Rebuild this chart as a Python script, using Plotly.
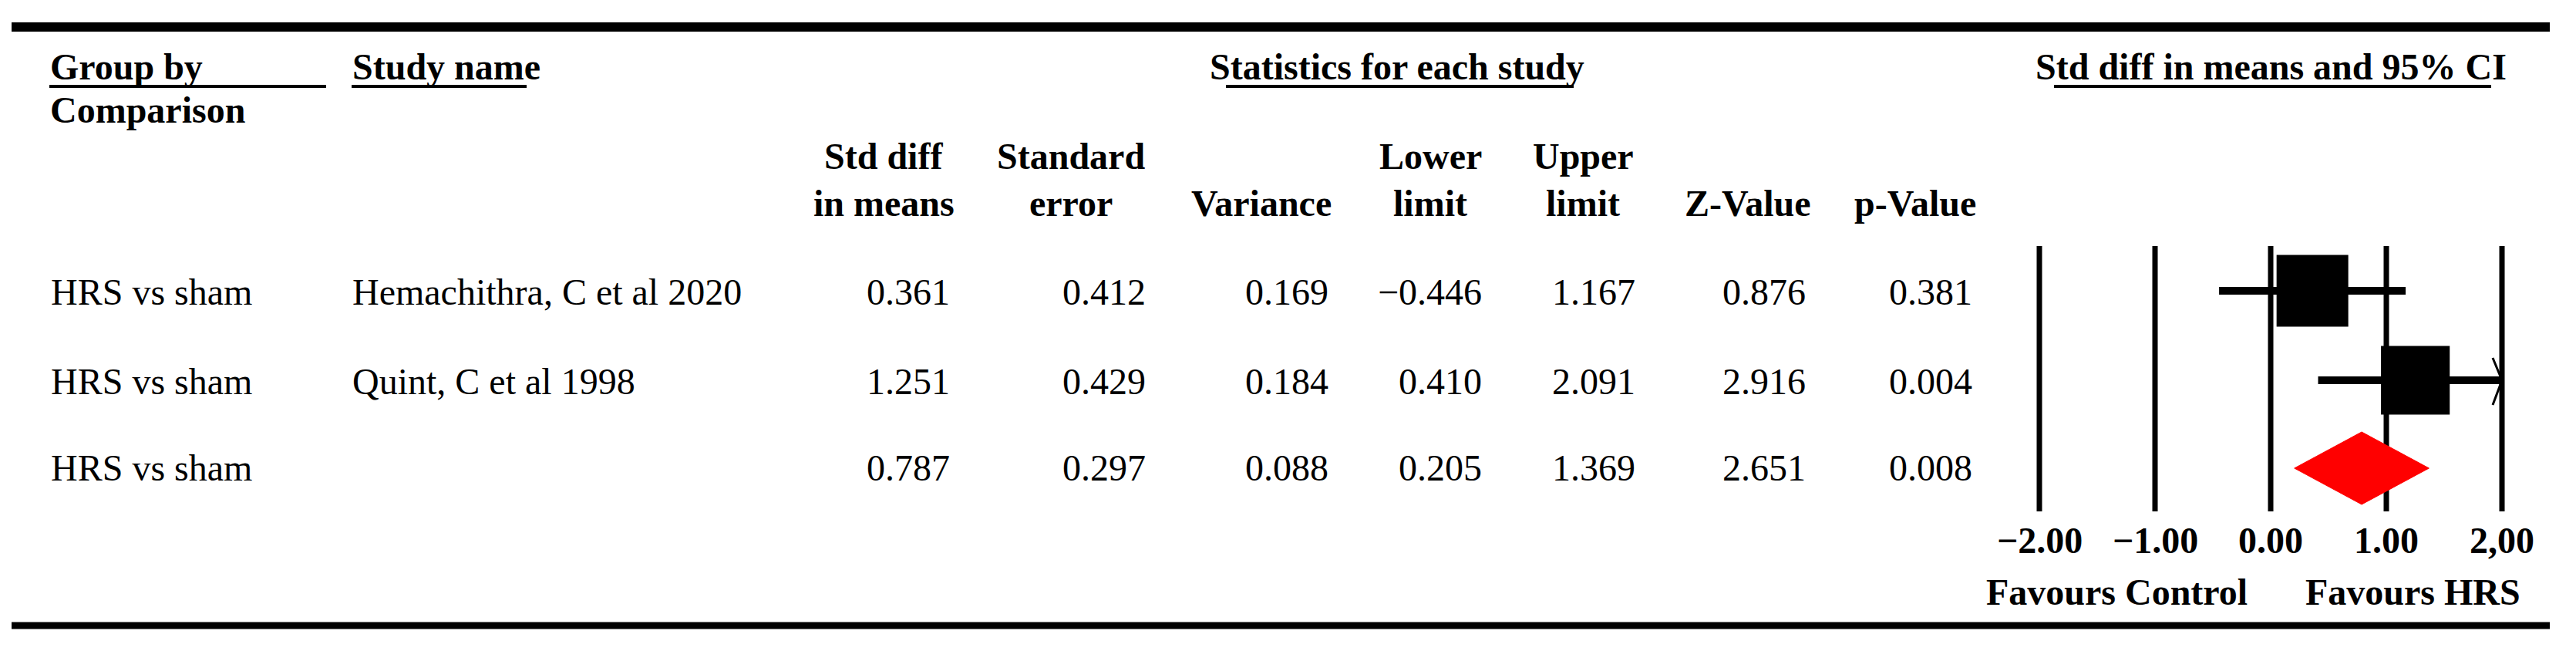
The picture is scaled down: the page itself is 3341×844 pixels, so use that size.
import plotly.graph_objects as go
import math

# ---------------- data ----------------
groups = ["HRS vs sham", "HRS vs sham", "HRS vs sham"]
studies = ["Hemachithra, C et al 2020", "Quint, C et al 1998", ""]
std_diff = [0.361, 1.251, 0.787]
std_err = [0.412, 0.429, 0.297]
variance = [0.169, 0.184, 0.088]
lower = [-0.446, 0.410, 0.205]
upper = [1.167, 2.091, 1.369]
z_value = [0.876, 2.916, 2.651]
p_value = [0.381, 0.004, 0.008]
is_summary = [False, False, True]

col_headers = [("Std diff", "in means"), ("Standard", "error"), ("", "Variance"),
               ("Lower", "limit"), ("Upper", "limit"), ("", "Z-Value"), ("", "p-Value")]
tick_vals = [-2, -1, 0, 1, 2]
tick_text = ["\u22122.00", "\u22121.00", "0.00", "1.00", "2,00"]
axis_min, axis_max = -2.0, 2.0

# ---------------- layout constants ----------------
W, H = 3341, 844
FONT = "Liberation Serif"
FS = 48
row_y = [378, 494, 606]
col_right = [1233, 1487, 1724, 1923, 2122, 2343, 2559]
col_center = [1146, 1389, 1636, 1855, 2053, 2267, 2484]

fig = go.Figure()
annotations = []
shapes = []


def txt(x, y, s, bold=False, anchor="left", xref="x"):
    annotations.append(dict(
        x=x, y=y, xref=xref, yref="y", text=("<b>%s</b>" % s) if bold else s,
        showarrow=False, xanchor=anchor, yanchor="middle", borderpad=0,
        font=dict(family=FONT, size=FS, color="black")))


def hline(x0, x1, y, w, xref="x"):
    shapes.append(dict(type="line", xref=xref, yref="y", x0=x0, x1=x1, y0=y, y1=y,
                       line=dict(color="black", width=w)))


# rules
hline(15, 3307, 35, 12)
hline(15, 3307, 811, 9)

# top headers
txt(64, 86, "Group by", bold=True)
txt(64, 142, "Comparison", bold=True)
txt(456, 86, "Study name", bold=True)
txt(1812, 86, "Statistics for each study", bold=True, anchor="center")
txt(2945, 86, "Std diff in means and 95% CI", bold=True, anchor="center")
hline(64, 423, 112, 4)
hline(456, 683, 112, 4)
hline(1590, 2041, 112, 4)
hline(2664, 3231, 112, 4)

# column headers
for (l1, l2), cx in zip(col_headers, col_center):
    if l1:
        txt(cx, 202, l1, bold=True, anchor="center")
    txt(cx, 263, l2, bold=True, anchor="center")


def fmt(v):
    s = "%.3f" % abs(v)
    return ("\u2212" + s) if v < 0 else s


cols = [std_diff, std_err, variance, lower, upper, z_value, p_value]
for i, y in enumerate(row_y):
    txt(65, y, groups[i])
    if studies[i]:
        txt(456, y, studies[i])
    for c, xr in zip(cols, col_right):
        txt(xr, y, fmt(c[i]), anchor="right")

# forest plot gridlines (vertical)
for tv, tt in zip(tick_vals, tick_text):
    shapes.append(dict(type="line", xref="x2", yref="y", x0=tv, x1=tv, y0=319, y1=663,
                       layer="below", line=dict(color="black", width=7)))
    txt(tv, 700, tt, bold=True, anchor="center", xref="x2")

txt(2745, 767, "Favours Control", bold=True, anchor="center")
txt(3129, 767, "Favours HRS", bold=True, anchor="center")

# study CIs and squares
vmin = min(v for v, s in zip(variance, is_summary) if not s)
for i in range(len(std_diff)):
    if is_summary[i]:
        continue
    y = row_y[i] - 1
    lo = max(lower[i], axis_min)
    hi = min(upper[i], axis_max)
    fig.add_trace(go.Scatter(x=[lo, hi], y=[y, y], mode="lines", xaxis="x2", yaxis="y",
                             line=dict(color="black", width=10), hoverinfo="skip",
                             showlegend=False))
    if upper[i] > axis_max:
        fig.add_trace(go.Scatter(x=[axis_max - 0.08, axis_max, axis_max - 0.08],
                                 y=[y - 29, y, y + 32], mode="lines", xaxis="x2", yaxis="y",
                                 line=dict(color="black", width=3), hoverinfo="skip",
                                 showlegend=False))
    size = 93 * math.sqrt(vmin / variance[i])
    fig.add_trace(go.Scatter(x=[std_diff[i]], y=[y], mode="markers", xaxis="x2", yaxis="y",
                             marker=dict(symbol="square", size=size, color="black",
                                         line=dict(width=0)),
                             hoverinfo="skip", showlegend=False))

# summary diamond
for i in range(len(std_diff)):
    if not is_summary[i]:
        continue
    y = row_y[i] + 1
    hh = 47
    fig.add_trace(go.Scatter(x=[lower[i], std_diff[i], upper[i], std_diff[i], lower[i]],
                             y=[y, y - hh, y, y + hh, y], mode="lines", fill="toself",
                             fillcolor="#ff0000", line=dict(color="#ff0000", width=1),
                             xaxis="x2", yaxis="y", hoverinfo="skip", showlegend=False))

x2_range = [-2.5, 2.5]
px_per_unit = 150
zero_px = 2945
d0 = (zero_px + x2_range[0] * px_per_unit) / W
d1 = (zero_px + x2_range[1] * px_per_unit) / W

fig.update_layout(
    width=W, height=H, margin=dict(l=0, r=0, t=0, b=0),
    paper_bgcolor="white", plot_bgcolor="white",
    xaxis=dict(range=[0, W], domain=[0, 1], visible=False, fixedrange=True),
    xaxis2=dict(range=x2_range, domain=[d0, d1], anchor="y", visible=False, fixedrange=True),
    yaxis=dict(range=[H, 0], domain=[0, 1], visible=False, fixedrange=True),
    annotations=annotations, shapes=shapes, showlegend=False,
)

fig.write_html("out.html", config={"displayModeBar": False},
               post_script="document.body.style.margin='0px';document.body.style.overflow='hidden';")
